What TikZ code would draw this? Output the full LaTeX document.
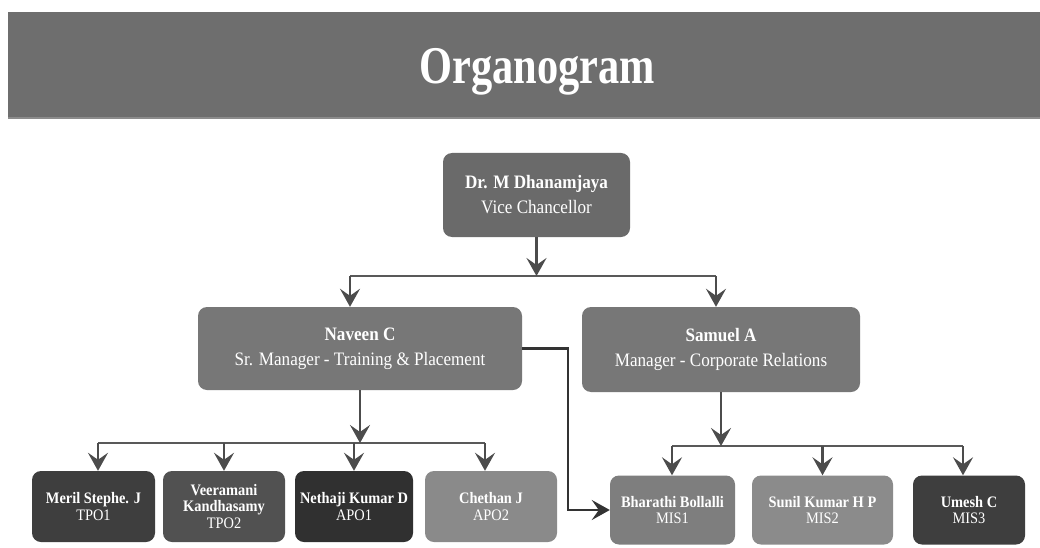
\documentclass[tikz,border=0pt]{standalone}
\usepackage{fontspec}
\setmainfont[FakeStretch=0.9]{Liberation Serif}
\newfontfamily\titlefont[FakeStretch=0.8]{Liberation Serif}
\usetikzlibrary{arrows.meta}

\definecolor{bannergray}{HTML}{6E6E6E}
\definecolor{vcgray}{HTML}{6A6A6A}
\definecolor{mgrgray}{HTML}{777777}
\definecolor{darkbox}{HTML}{3E3E3E}
\definecolor{darkerbox}{HTML}{303030}
\definecolor{lightbox}{HTML}{8A8A8A}
\definecolor{midbox}{HTML}{7E7E7E}

\begin{document}
\begin{tikzpicture}[x=1pt, y=-1pt,
    box/.style={rounded corners=9pt, text=white, align=center, inner sep=0pt},
    big/.style={font=\fontsize{19}{25}\selectfont},
    small/.style={font=\fontsize{16}{16.5}\selectfont},
    arr/.style={draw=black!70, line width=2.2pt, -{Stealth[length=18pt,width=20pt,inset=7pt]}},
    bar/.style={draw=black!65, line width=1.2pt}]
    \useasboundingbox (0,0) rectangle (1040,548);
    \fill[white] (0,0) rectangle (1040,548);

    % banner
    \fill[bannergray] (8,12) rectangle (1040,118);
    \draw[black!45, line width=1.5pt] (8,118) -- (1040,118);
    \node[text=white, font=\titlefont\bfseries\fontsize{53}{60}\selectfont] (title) at (537,72) {Organogram};

    % top level
    \node[box, big, fill=vcgray, minimum width=187pt, minimum height=84pt] (VC) at (536.5,195)
        {\textbf{Dr. M Dhanamjaya}\\Vice Chancellor};

    \coordinate (topl) at (350,276);
    \coordinate (topr) at (716,276);
    \draw[bar] (topl) -- (topr);
    \draw[arr] (VC.south) -- (VC.south |- topl);

    % managers
    \node[box, big, fill=mgrgray, minimum width=324pt, minimum height=83pt] (Naveen) at (360,348.5)
        {\textbf{Naveen C}\\Sr. Manager - Training \& Placement};
    \node[box, big, fill=mgrgray, minimum width=278pt, minimum height=85pt] (Samuel) at (721,349.5)
        {\textbf{Samuel A}\\Manager - Corporate Relations};

    \draw[arr] (topl) -- (topl |- Naveen.north);
    \draw[arr] (topr) -- (topr |- Samuel.north);

    % training & placement team
    \node[box, small, fill=darkbox, minimum width=123pt, minimum height=71pt] (Meril) at (93.5,506.5)
        {\textbf{Meril Stephe. J}\\TPO1};
    \node[box, small, fill=darkbox!90!white, minimum width=122pt, minimum height=71pt] (Veera) at (224,506.5)
        {\textbf{Veeramani}\\\textbf{Kandhasamy}\\TPO2};
    \node[box, small, fill=darkerbox, minimum width=118pt, minimum height=71pt] (Nethaji) at (354,506.5)
        {\textbf{Nethaji Kumar D}\\APO1};
    \node[box, small, fill=lightbox, minimum width=132pt, minimum height=71pt] (Chethan) at (491,506.5)
        {\textbf{Chethan J}\\APO2};

    \coordinate (tpl) at (98,443);
    \coordinate (tpr) at (485,443);
    \draw[bar] (tpl) -- (tpr);
    \draw[arr] (Naveen.south) -- (Naveen.south |- tpl);
    \draw[arr] (tpl) -- (tpl |- Meril.north);
    \draw[arr] (Veera.north |- tpl) -- (Veera.north);
    \draw[arr] (Nethaji.north |- tpl) -- (Nethaji.north);
    \draw[arr] (tpr) -- (tpr |- Chethan.north);

    % corporate relations team
    \node[box, small, fill=midbox, minimum width=125pt, minimum height=69pt] (Bharathi) at (672.5,510)
        {\textbf{Bharathi Bollalli}\\MIS1};
    \node[box, small, fill=midbox!90!white, minimum width=141pt, minimum height=69pt] (Sunil) at (822.5,510)
        {\textbf{Sunil Kumar H P}\\MIS2};
    \node[box, small, fill=darkbox, minimum width=112pt, minimum height=69pt] (Umesh) at (969,510)
        {\textbf{Umesh C}\\MIS3};

    \coordinate (crl) at (672,446);
    \coordinate (crr) at (963,446);
    \draw[bar] (crl) -- (crr);
    \draw[arr] (Samuel.south) -- (Samuel.south |- crl);
    \draw[arr] (crl) -- (crl |- Bharathi.north);
    \draw[arr] (Sunil.north |- crl) -- (Sunil.north);
    \draw[arr] (crr) -- (crr |- Umesh.north);

    % cross link
    \coordinate (turn) at (568,0);
    \draw[arr, line width=2.5pt, draw=black!80] (Naveen.east) -| (turn |- Bharathi.west) -- (Bharathi.west);
\end{tikzpicture}
\end{document}
